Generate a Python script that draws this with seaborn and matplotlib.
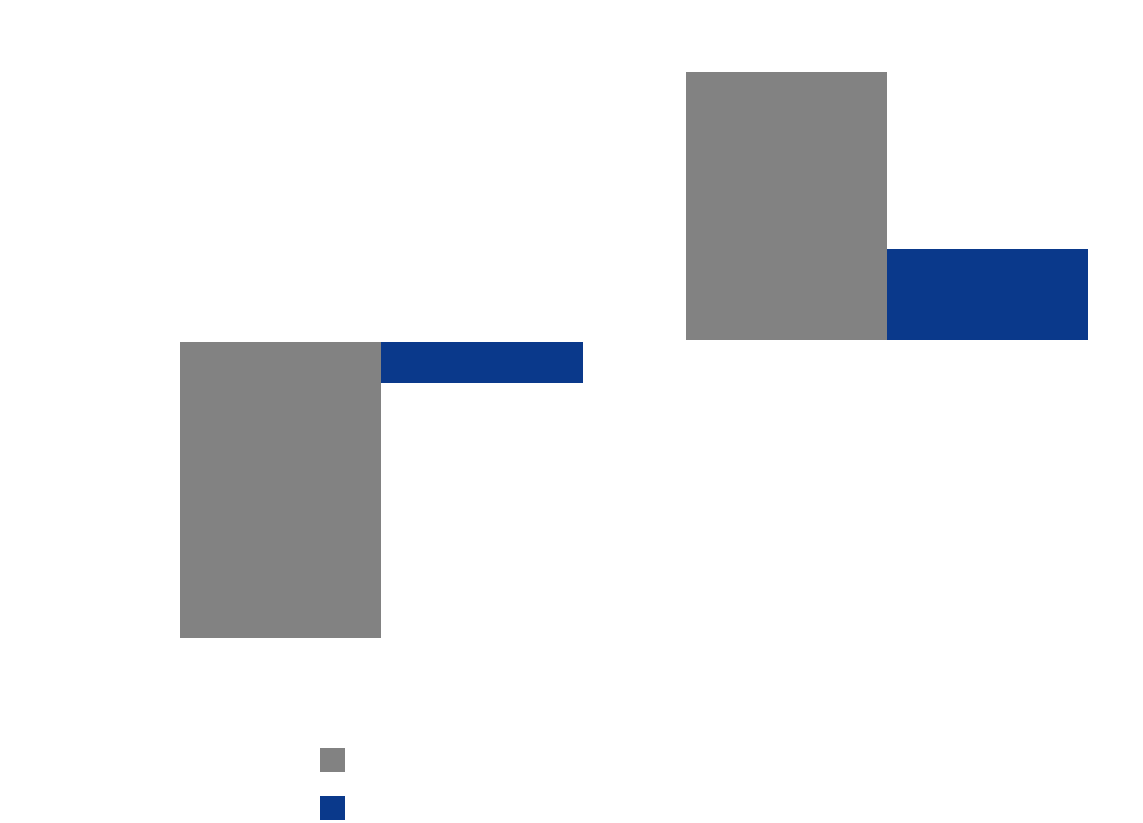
import numpy as np
import pandas as pd
import seaborn as sns
import matplotlib.pyplot as plt
from matplotlib.patches import Patch

# values (text in the reference is white on white)
series = ["Current", "Change"]
left_values = [-3.75, -0.52]
right_values = [3.39, 1.15]
panel_titles = ["Annual change in the net balance of spending", ""]
colors = ["#828282", "#0a398b"]

sns.set_style("white")
plt.rcParams['font.family'] = ['DejaVu Sans']

fig = plt.figure(figsize=(11.43, 8.23), dpi=100)
fig.patch.set_facecolor("white")

ax1 = fig.add_axes([180/1143, 0.198, 403/1143, 0.7655])
ax2 = fig.add_axes([686/1143, 0.198 + 2/823, 402/1143, 0.7655])

for ax, vals, title in [(ax1, left_values, panel_titles[0]), (ax2, right_values, panel_titles[1])]:
    df = pd.DataFrame({"group": ["a", "a"], "series": series, "value": vals})
    sns.barplot(data=df, x="group", y="value", hue="series", palette=colors,
                width=1, gap=0, linewidth=0, saturation=1, ax=ax, legend=False)
    ax.set_xlim(-0.5, 0.5)
    ax.set_ylim(-4.03, 3.95)
    for s in ax.spines.values():
        s.set_visible(False)
    ax.set_xticks([])
    ax.set_yticks([])
    ax.set_xlabel("")
    ax.set_ylabel("")
    for c in ax.containers:
        ax.bar_label(c, fmt="%.1f", color="white", fontsize=12, padding=4)
    if title:
        ax.text(0, 1.35, title, ha="center", va="center", color="white", fontsize=13)

# invisible (white) tick labels on left panel
for t in [2, 1, 0, -1, -2, -3]:
    ax1.text(-0.75, t, f"{t}", color="white", fontsize=11, ha="right", va="center")

handles = [Patch(facecolor=c, edgecolor="none") for c in colors]
leg = fig.legend(handles, series, loc="upper left", bbox_to_anchor=(320/1143, 1 - 748/823),
                 frameon=False, fontsize=14, handlelength=1.3, handleheight=1.5,
                 labelspacing=1.25, borderpad=0, borderaxespad=0)
for t in leg.get_texts():
    t.set_color("white")

plt.savefig("out.png", dpi=100, facecolor="white")
